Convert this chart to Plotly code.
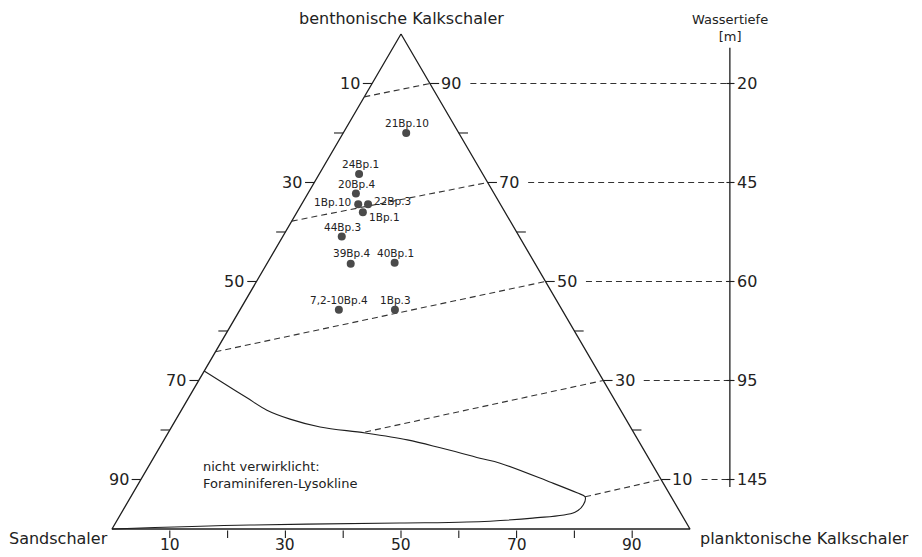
import plotly.graph_objects as go

# ---------------- data (percent compositions) ----------------
# a = benthonische Kalkschaler (top), b = Sandschaler (left), c = planktonische Kalkschaler (right)
sample_names = ["21Bp.10", "24Bp.1", "20Bp.4", "1Bp.10", "22Bp.3", "1Bp.1",
                "44Bp.3", "39Bp.4", "40Bp.1", "7,2-10Bp.4", "1Bp.3"]
sample_benthic = [80.0, 71.7, 67.8, 65.6, 65.6, 64.0, 59.1, 53.6, 53.8, 44.3, 44.3]
sample_plankt = [10.9, 6.9, 8.3, 9.8, 11.5, 11.4, 10.2, 14.5, 22.0, 17.1, 26.8]

all_ticks = [10, 20, 30, 40, 50, 60, 70, 80, 90]
labelled_ticks = [10, 30, 50, 70, 90]

# depth scale (Wassertiefe) tied to benthic % on the right edge
depth_benthic = [90, 70, 50, 30, 10]
depth_labels = ["20", "45", "60", "95", "145"]

# left ends of the dashed iso-depth lines
iso_left_benthic = [87.3, 62.2, 35.8, 19.6, 6.5]
iso_left_plankt = [0.0, 0.0, 0.0, 34.0, 78.6]

# boundary of the unrealised field (Foraminiferen-Lysokline)
lyso_benthic = [31.9, 29.5, 26.5, 24.0, 22.2, 20.6, 19.4, 18.0, 16.4, 14.3, 13.3,
                9.5, 7.3, 6.5, 4.9, 3.4, 2.2, 1.4, 1.2, 0.8, 0.0]
lyso_plankt = [0.0, 4.5, 10.1, 14.8, 19.7, 25.7, 34.1, 42.1, 48.6, 56.5, 60.5,
               71.0, 76.8, 78.6, 79.1, 78.4, 71.7, 60.7, 49.2, 23.5, 0.0]

# ---------------- label placement (style) ----------------
# (xanchor, xshift, yshift) for each sample label
label_style = [("center", 1, 10), ("center", 1, 10), ("center", 1, 9), ("right", -5, 2),
               ("left", 4, 3), ("left", 4, -5), ("center", 1, 9), ("center", 1, 11),
               ("center", 1, 10), ("center", 0, 10), ("center", 1, 10)]


# ---------------- projection helpers ----------------
def tx(a, c):
    return c + a / 2.0


def ty(a):
    return a


FONT = "DejaVu Sans"
TXT = "#222222"
LINE = "#1e1e1e"
TL_X = 1.6      # horizontal tick length (data units)
TL_Y = 1.5      # vertical tick length
DEPTH_X = 106.9
DEPTH_TOP = 97.2
DEPTH_BOTTOM = 8.5
CONNECT_GAP = 7.0

fig = go.Figure()

# triangle outline
tri_a = [100, 0, 0, 100]
tri_c = [0, 0, 100, 0]
fig.add_trace(go.Scatter(x=[tx(a, c) for a, c in zip(tri_a, tri_c)], y=[ty(a) for a in tri_a],
                         mode="lines", line=dict(color=LINE, width=1.3), hoverinfo="skip"))

# ticks
tkx, tky = [], []
for v in all_ticks:
    a = 100 - v
    x0 = tx(a, 0)
    tkx += [x0, x0 - TL_X, None]
    tky += [ty(a), ty(a), None]
    x1 = tx(v, 100 - v)
    tkx += [x1, x1 + TL_X, None]
    tky += [ty(v), ty(v), None]
    xb = tx(0, v)
    tkx += [xb, xb, None]
    tky += [-0.3, -0.3 - TL_Y, None]
fig.add_trace(go.Scatter(x=tkx, y=tky, mode="lines", line=dict(color=LINE, width=1.1),
                         hoverinfo="skip"))

annotations = []
for v in labelled_ticks:
    a = 100 - v
    annotations.append(dict(x=tx(a, 0) - TL_X, y=ty(a), text=str(v), xanchor="right",
                            yanchor="middle", xshift=-1, showarrow=False,
                            font=dict(size=16, color=TXT, family=FONT)))
    annotations.append(dict(x=tx(v, 100 - v) + TL_X, y=ty(v), text=str(v), xanchor="left",
                            yanchor="middle", xshift=0, showarrow=False,
                            font=dict(size=16, color=TXT, family=FONT)))
    annotations.append(dict(x=tx(0, v), y=-0.3 - TL_Y, text=str(v), xanchor="center",
                            yanchor="top", yshift=3, borderpad=0, showarrow=False,
                            font=dict(size=15.5, color=TXT, family=FONT)))

# dashed iso-depth lines and connectors to depth scale
dx, dy = [], []
for a_r, a_l, c_l in zip(depth_benthic, iso_left_benthic, iso_left_plankt):
    dx += [tx(a_l, c_l), tx(a_r, 100 - a_r), None]
    dy += [ty(a_l), ty(a_r), None]
    dx += [tx(a_r, 100 - a_r) + CONNECT_GAP, DEPTH_X, None]
    dy += [ty(a_r), ty(a_r), None]
fig.add_trace(go.Scatter(x=dx, y=dy, mode="lines",
                         line=dict(color="#333333", width=1.1, dash="6px,4px"), hoverinfo="skip"))

# depth axis
fig.add_trace(go.Scatter(x=[DEPTH_X, DEPTH_X], y=[DEPTH_TOP, DEPTH_BOTTOM], mode="lines",
                         line=dict(color=LINE, width=1.3), hoverinfo="skip"))
dtx, dty = [], []
for a in depth_benthic:
    dtx += [DEPTH_X - 0.6, DEPTH_X + 0.8, None]
    dty += [ty(a), ty(a), None]
fig.add_trace(go.Scatter(x=dtx, y=dty, mode="lines", line=dict(color=LINE, width=1.1),
                         hoverinfo="skip"))
for a, lab in zip(depth_benthic, depth_labels):
    annotations.append(dict(x=DEPTH_X + 0.8, y=ty(a), text=lab, xanchor="left", yanchor="middle",
                            xshift=0, showarrow=False, font=dict(size=16, color=TXT, family=FONT)))
annotations.append(dict(x=DEPTH_X, y=ty(DEPTH_TOP), text="Wassertiefe<br>[m]", xanchor="center",
                        yanchor="bottom", yshift=2, showarrow=False, align="center",
                        font=dict(size=13, color=TXT, family=FONT)))

# lysocline boundary
fig.add_trace(go.Scatter(x=[tx(a, c) for a, c in zip(lyso_benthic, lyso_plankt)],
                         y=[ty(a) for a in lyso_benthic], mode="lines",
                         line=dict(color=LINE, width=1.1, shape="spline", smoothing=1.0),
                         hoverinfo="skip"))
annotations.append(dict(x=15.4, y=11.0, text="nicht verwirklicht:<br>Foraminiferen-Lysokline",
                        xanchor="left", yanchor="middle", align="left", showarrow=False,
                        font=dict(size=13, color=TXT, family=FONT)))

# samples
sx = [tx(a, c) for a, c in zip(sample_benthic, sample_plankt)]
sy = [ty(a) for a in sample_benthic]
fig.add_trace(go.Scatter(x=sx, y=sy, mode="markers", text=sample_names,
                         marker=dict(size=8, color="#4a4a4a", line=dict(width=0)),
                         hoverinfo="text"))
for xv, yv, name, (anc, xs, ys) in zip(sx, sy, sample_names, label_style):
    annotations.append(dict(x=xv, y=yv, text=name, xanchor=anc, yanchor="middle",
                            xshift=xs, yshift=ys, showarrow=False,
                            font=dict(size=10.5, color=TXT, family=FONT)))

# vertex titles
annotations.append(dict(x=tx(100, 0), y=103.2, text="benthonische Kalkschaler", xanchor="center",
                        yanchor="middle", showarrow=False, font=dict(size=16, color=TXT, family=FONT)))
annotations.append(dict(x=tx(0, 0), y=0, text="Sandschaler", xanchor="right", yanchor="middle",
                        xshift=-2, yshift=-9, showarrow=False,
                        font=dict(size=16, color=TXT, family=FONT)))
annotations.append(dict(x=tx(0, 100), y=0, text="planktonische Kalkschaler", xanchor="left",
                        yanchor="middle", xshift=8, yshift=-9, showarrow=False,
                        font=dict(size=16, color=TXT, family=FONT)))

# page has an 8px body margin: figure is 914x549 and ranges are set so the
# triangle lands where the reference has it in the window
fig.update_layout(
    width=914, height=549, margin=dict(l=0, r=0, t=0, b=0),
    paper_bgcolor="white", plot_bgcolor="white", showlegend=False,
    xaxis=dict(range=[-17.993, 140.14], visible=False, fixedrange=True),
    yaxis=dict(range=[-5.657, 105.25], visible=False, fixedrange=True),
    annotations=annotations,
)

fig.write_html("out.html")
